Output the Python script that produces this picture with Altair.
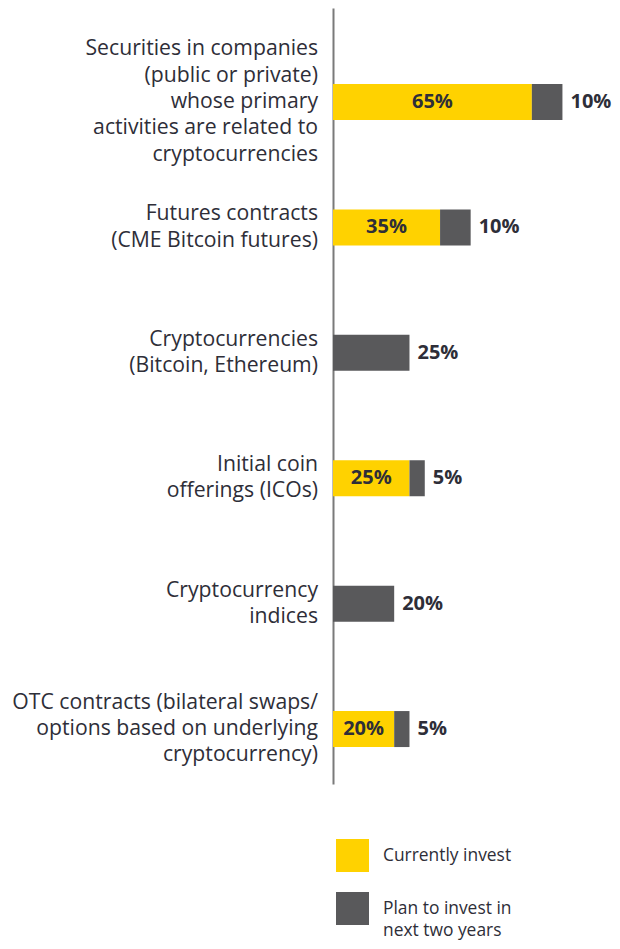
import altair as alt
import pandas as pd

categories = [
    "Securities in companies|(public or private)|whose primary|activities are related to|cryptocurrencies",
    "Futures contracts|(CME Bitcoin futures)",
    "Cryptocurrencies|(Bitcoin, Ethereum)",
    "Initial coin|offerings (ICOs)",
    "Cryptocurrency|indices",
    "OTC contracts (bilateral swaps/|options based on underlying|cryptocurrency)",
]
currently_invest = [65, 35, 0, 25, 0, 20]
plan_to_invest = [10, 10, 25, 5, 20, 5]
series_names = ["Currently invest", "Plan to invest in|next two years"]
colors = ["#FFD200", "#59595B"]

rows = []
for c, cur, pl in zip(categories, currently_invest, plan_to_invest):
    rows.append({"cat": c, "series": series_names[0], "start": 0, "end": cur,
                 "mid": cur / 2, "label": f"{cur}%" if cur > 0 else ""})
    rows.append({"cat": c, "series": series_names[1], "start": cur, "end": cur + pl,
                 "mid": cur + pl, "label": f"{pl}%" if pl > 0 else ""})
df = pd.DataFrame(rows)
cats_df = pd.DataFrame({"cat": categories,
                        "nlines": [len(c.split("|")) for c in categories]})

FONT = "Open Sans"
TEXT = "#2E2E38"
LH = 26.3

y_scale = alt.Scale(domain=categories, paddingInner=0.713, paddingOuter=0.4505, align=0.673)
y_enc = alt.Y("cat:N", sort=categories, scale=y_scale,
              axis=alt.Axis(labels=False, ticks=False, title=None, domain=True,
                            domainColor="#7A7A7A", domainWidth=2, grid=False))
x_scale = alt.Scale(domain=[0, 91.2], nice=False, zero=True)

bars = alt.Chart(df).mark_bar(size=36).encode(
    y=y_enc,
    x=alt.X("start:Q", scale=x_scale, axis=None),
    x2="end:Q",
    color=alt.Color("series:N", sort=series_names,
                    scale=alt.Scale(domain=series_names, range=colors),
                    legend=alt.Legend(
                        title=None, orient="none", legendX=3, legendY=831,
                        symbolType="square", symbolSize=1089, symbolStrokeWidth=0,
                        symbolOpacity=1, labelFont=FONT, labelFontSize=17.4,
                        labelColor=TEXT, labelOffset=14, rowPadding=20, padding=0,
                        labelExpr="split(datum.label, '|')", labelLimit=300)),
)

inner_labels = alt.Chart(df).transform_filter(
    "datum.series == 'Currently invest' && datum.label != ''"
).mark_text(font=FONT, fontSize=20, fontWeight="bold", color=TEXT,
            align="center", baseline="middle").encode(
    y=alt.Y("cat:N", sort=categories, scale=y_scale),
    x=alt.X("mid:Q", scale=x_scale),
    text="label:N",
)

outer_labels = alt.Chart(df).transform_filter(
    "datum.series != 'Currently invest'"
).mark_text(font=FONT, fontSize=20, fontWeight="bold", color=TEXT,
            align="left", baseline="middle", dx=8).encode(
    y=alt.Y("cat:N", sort=categories, scale=y_scale),
    x=alt.X("mid:Q", scale=x_scale),
    text="label:N",
)

layers = [bars, inner_labels, outer_labels]
for n in sorted(set(cats_df["nlines"])):
    layers.append(
        alt.Chart(cats_df).transform_filter(f"datum.nlines == {n}").mark_text(
            font=FONT, fontSize=21.2, color=TEXT, align="right", baseline="middle",
            lineBreak="|", lineHeight=LH, dy=-(n - 1) * LH / 2
        ).encode(
            y=alt.Y("cat:N", sort=categories, scale=y_scale),
            x=alt.value(-15),
            text="cat:N",
        )
    )

chart = alt.layer(*layers).properties(
    width=279, height=776,
    autosize=alt.AutoSizeParams(type="none"),
    padding={"left": 325, "top": 0, "right": 0, "bottom": 157},
).configure(
    view=alt.ViewConfig(stroke=None),
    style={"guide-label": {"lineHeight": 22}},
)

chart.save("out.html", embed_options={"renderer": "svg", "actions": False})
